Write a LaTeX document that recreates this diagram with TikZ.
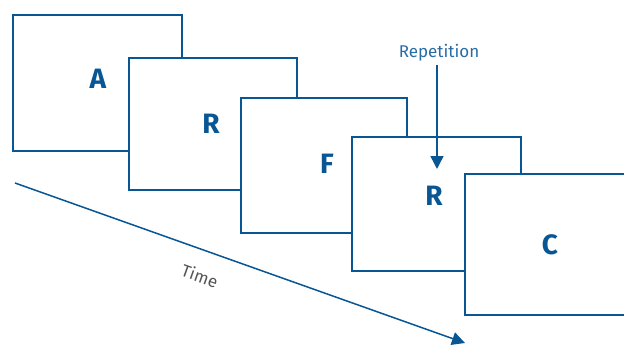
\documentclass[tikz,border=0pt]{standalone}
\usepackage{fontspec}
\setmainfont{Fira Sans}
\usetikzlibrary{arrows.meta}
\definecolor{dblue}{RGB}{8,86,148}
\definecolor{lblue}{RGB}{40,108,164}
\definecolor{tgray}{RGB}{85,85,85}
\tikzset{
  frame/.style={draw=dblue, line width=1.5pt, fill=white},
  lab/.style={text=dblue, font=\fontsize{28}{30}\selectfont\bfseries},
  conn/.style={draw=dblue, line width=1.5pt, -{Triangle[length=13pt,width=13pt]}}
}
\begin{document}
\begin{tikzpicture}[x=1pt,y=-1pt]
\clip (0,0) rectangle (624,345);
\useasboundingbox (0,0) rectangle (624,345);
% frames
\draw[frame] (13,15) rectangle (182,151);
\node[lab] (a) at (98,79) {A};
\draw[frame] (129,58) rectangle (297,190);
\node[lab] (r1) at (211,124) {R};
\draw[frame] (241,98) rectangle (407,233);
\node[lab] (f) at (327,164) {F};
\draw[frame] (352,137) rectangle (521,271);
\node[lab] (r2) at (434,196) {R};
\draw[frame] (465,174) rectangle (640,315);
\node[lab] (c) at (550,245) {C};
% repetition
\node[text=lblue, font=\fontsize{17}{19}\selectfont] (rep) at (439,53) {Repetition};
\coordinate (reptip) at (437,169);
\draw[conn] (rep.south -| reptip) -- (reptip);
% time
\coordinate (t0) at (15,183);
\coordinate (t1) at (465,343);
\draw[conn] (t0) -- (t1);
\node[text=tgray, font=\fontsize{17}{19}\selectfont, rotate=-19.6] (time) at (200,276) {Time};
\end{tikzpicture}
\end{document}
